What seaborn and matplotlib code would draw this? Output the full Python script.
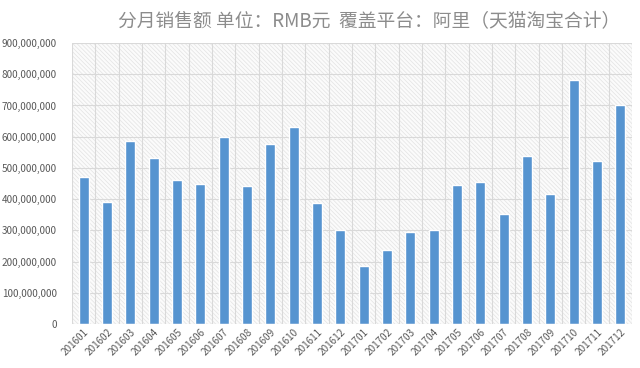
import matplotlib
matplotlib.use("Agg")
import matplotlib.pyplot as plt
import seaborn as sns
import pandas as pd
from matplotlib.patches import Rectangle
from matplotlib.ticker import FuncFormatter, MultipleLocator

months = ["201601", "201602", "201603", "201604", "201605", "201606", "201607", "201608",
          "201609", "201610", "201611", "201612", "201701", "201702", "201703", "201704",
          "201705", "201706", "201707", "201708", "201709", "201710", "201711", "201712"]
sales = [470e6, 390e6, 587e6, 532e6, 462e6, 448e6, 600e6, 442e6,
         577e6, 632e6, 388e6, 302e6, 186e6, 237e6, 295e6, 300e6,
         446e6, 456e6, 353e6, 537e6, 415e6, 782e6, 522e6, 702e6]
title = "分月销售额 单位：RMB元  覆盖平台：阿里（天猫淘宝合计）"

df = pd.DataFrame({"month": months, "sales": sales})

sns.set_theme(style="white")
plt.rcParams['font.family'] = ['Noto Sans CJK SC', 'DejaVu Sans']
plt.rcParams['hatch.linewidth'] = 0.5

fig = plt.figure(figsize=(6.4, 3.68), dpi=100)
ax = fig.add_axes([0.1125, 0.1196, 0.875, 0.7634])

# hatched plot-area background
bg = Rectangle((0, 0), 1, 1, transform=ax.transAxes, facecolor="#fbfbfb",
               edgecolor="#e3e3e3", hatch="\\\\\\\\\\\\\\\\", linewidth=0, zorder=0)
ax.add_patch(bg)

sns.barplot(data=df, x="month", y="sales", color="#5694D0", width=0.42,
            saturation=1, ax=ax, zorder=3)

ax.set_ylim(0, 900e6)
ax.set_xlim(-0.5, len(months) - 0.5)
ax.yaxis.set_major_locator(MultipleLocator(100e6))
ax.yaxis.set_major_formatter(FuncFormatter(lambda v, p: f"{int(round(v)):,}"))

# grid lines
for y in range(1, 10):
    ax.axhline(y * 100e6, color="#d9d9d9", lw=0.8, zorder=1)
for i in range(len(months) + 1):
    ax.axvline(i - 0.5, color="#d9d9d9", lw=0.8, zorder=1)
ax.axhline(0, color="#d9d9d9", lw=0.8, zorder=4)

for s in ax.spines.values():
    s.set_visible(False)

ax.set_xlabel("")
ax.set_ylabel("")
ax.tick_params(axis="both", length=0, colors="#595959", labelsize=7.2)
ax.tick_params(axis="x", pad=2)
ax.tick_params(axis="y", pad=11)
plt.setp(ax.get_xticklabels(), rotation=45, ha="right", rotation_mode="anchor")

fig.text(0.577, 0.945, title, ha="center", va="center", fontsize=13.5,
         color="#8c8c8c", fontweight="light")

fig.savefig("out.png", dpi=100, facecolor="white")
